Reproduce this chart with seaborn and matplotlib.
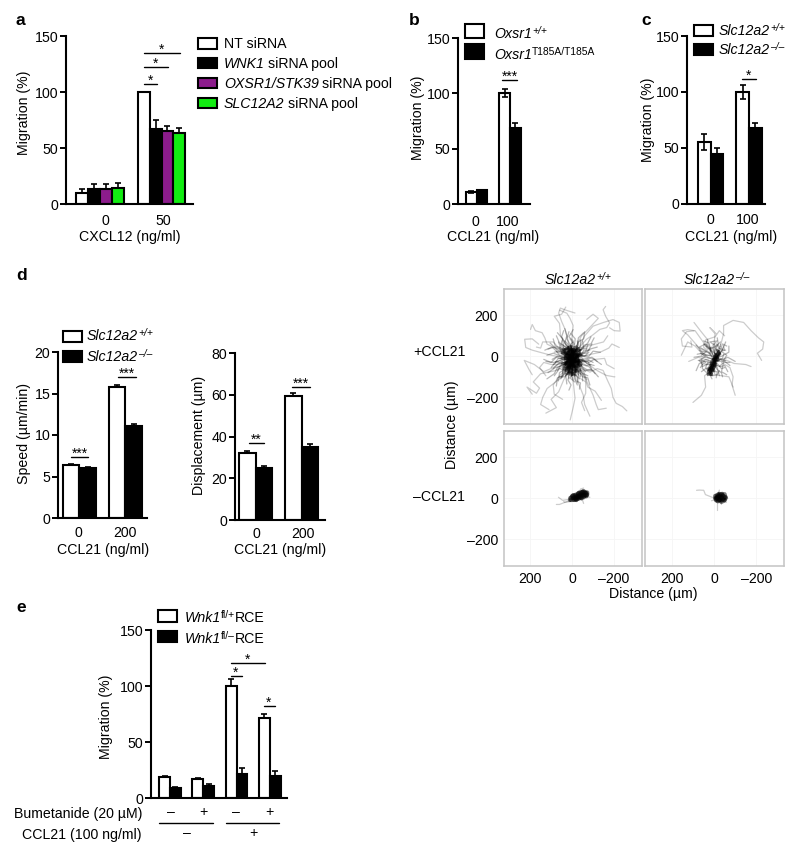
import matplotlib
matplotlib.use("Agg")
import matplotlib.pyplot as plt
from matplotlib.lines import Line2D
from matplotlib.patches import Rectangle
import pandas as pd
import seaborn as sns

W, H = 800, 857
FS = 10.2
SUP = 7.4

# -----------------------------
# Bar data
# -----------------------------
a_doses = ["0", "50"]
a_groups = ["NT siRNA", "WNK1 siRNA pool", "OXSR1/STK39 siRNA pool", "SLC12A2 siRNA pool"]
a_means = [[10, 100], [13, 67], [13, 65], [14, 63.5]]
a_errs = [[3, 0], [5, 8], [5, 5], [5, 4]]
a_colors = ["white", "black", "#8c1c8c", "#12ec12"]

b_doses = ["0", "100"]
b_groups = ["Oxsr1 +/+", "Oxsr1 T185A/T185A"]
b_means = [[11, 100], [12.5, 69]]
b_errs = [[1, 3.5], [0.5, 4.5]]

c_doses = ["0", "100"]
c_groups = ["Slc12a2 +/+", "Slc12a2 -/-"]
c_means = [[55, 100], [44, 68]]
c_errs = [[7, 6.5], [6, 4]]

speed_doses = ["0", "200"]
speed_means = [[6.4, 15.8], [6.0, 11.1]]
speed_errs = [[0.15, 0.2], [0.12, 0.2]]

disp_doses = ["0", "200"]
disp_means = [[32, 59.5], [25, 35.2]]
disp_errs = [[1, 1.2], [0.7, 1]]

e_conditions = ["none", "bumetanide", "ccl21", "ccl21 + bumetanide"]
e_groups = ["Wnk1 fl/+ RCE", "Wnk1 fl/- RCE"]
e_means = [[19, 17, 100, 71], [9, 11, 21.5, 20]]
e_errs = [[0.5, 0.5, 6, 4], [0.5, 1.5, 5, 4]]
bumetanide_signs = ["–", "+", "–", "+"]
ccl21_signs = ["–", "+"]

# -----------------------------
# Tracks, in um
# -----------------------------
tracks_wt_ccl21 = [
    [(-14, -21), (-50, -60), (-85, -77), (-120, -60), (-148, -69), (-170, -120), (-187, -157), (-195, -200), (-210, -229), (-240, -245), (-261, -266)],
    [(-6, 19), (-40, 50), (-69, 83), (-100, 105), (-132, 131), (-165, 140), (-179, 163), (-160, 195), (-148, 227), (-160, 243)],
    [(-30, 35), (-60, 100), (-100, 147), (-150, 165), (-195, 179), (-225, 165), (-229, 123), (-200, 125), (-179, 139)],
    [(9, 19), (20, 80), (33, 131), (50, 170), (64, 211), (56, 235), (30, 225), (-14, 211)],
    [(5, 30), (0, 95), (-5, 150), (10, 185), (25, 210), (60, 225)],
    [(25, 11), (70, 35), (119, 59), (130, 90), (143, 115), (175, 125), (190, 155), (198, 131)],
    [(41, -5), (100, 5), (151, 19), (190, 30), (221, 43), (226, 83), (190, 85), (159, 59)],
    [(40, -20), (90, -55), (135, -75), (180, -40), (228, -20), (205, -65), (190, -90)],
    [(33, -45), (80, -70), (150, -85), (185, -125), (155, -155), (170, -180), (215, -150), (190, -185)],
    [(17, -60), (60, -110), (119, -157), (140, -200), (150, -235), (110, -260)],
    [(10, -60), (40, -115), (64, -173), (100, -210), (75, -250), (125, -277)],
    [(2, -75), (-5, -120), (-14, -205), (-5, -250), (9, -310)],
    [(-14, -60), (-30, -130), (-53, -189), (-60, -235), (-85, -292)],
    [(-30, -45), (-60, -100), (-100, -189), (-115, -235), (-125, -260), (-163, -253)],
    [(-30, -5), (-90, 10), (-132, 19), (-175, 40), (-190, 60), (-225, 43)],
    [(-53, -21), (-120, -70), (-163, -93), (-200, -100), (-204, -100)],
    [(-20, -50), (-55, -90), (-75, -150), (-110, -170), (-140, -215)],
    [(15, 40), (55, 100), (60, 160), (85, 195), (50, 205), (30, 240)],
    [(-15, 40), (-45, 100), (-75, 130), (-125, 185), (-100, 205), (-70, 180)],
    [(45, 20), (90, 70), (140, 70), (150, 40), (170, 45)],
    [(50, -40), (100, -40), (135, -30), (155, -55), (125, -95)],
    [(25, -60), (60, -95), (90, -140), (85, -185), (45, -210)],
    [(-25, -55), (-35, -105), (-65, -125), (-65, -180), (-45, -225), (-60, -265)],
    [(-50, 0), (-110, -15), (-155, -10), (-165, -40), (-200, -60)],
    [(-35, 40), (-95, 55), (-150, 70), (-170, 100)],
]
mid_wt_ccl21 = [
    [(0, 0), (40, 30), (85, 45), (115, 35)], [(0, 0), (30, 55), (50, 95), (40, 125)],
    [(0, 0), (5, 50), (25, 85), (15, 120)], [(0, 0), (-25, 45), (-30, 90), (-55, 115)],
    [(0, 0), (-40, 30), (-75, 65), (-90, 95)], [(0, 0), (-50, 10), (-85, 35), (-120, 45)],
    [(0, 0), (-50, -15), (-95, -5), (-120, -25)], [(0, -10), (-45, -40), (-80, -50), (-110, -85)],
    [(0, -10), (-30, -60), (-55, -75), (-70, -115)], [(0, -10), (-15, -60), (-10, -105), (-25, -140)],
    [(0, -10), (10, -60), (30, -95), (25, -135)], [(0, -10), (30, -60), (60, -80), (65, -120)],
    [(0, -10), (45, -45), (80, -55), (115, -80)], [(0, -10), (50, -20), (90, -30), (125, -25)],
    [(0, -10), (50, 0), (90, 15), (120, 5)], [(0, 0), (45, 15), (70, 30), (105, 65)],
    [(0, 0), (25, 40), (60, 65), (75, 100)], [(0, 0), (-10, 45), (-15, 85), (5, 110)],
    [(0, 0), (-35, 15), (-70, 15), (-95, 60)], [(0, 0), (-45, -5), (-70, -35), (-105, -45)],
    [(0, -5), (-35, -30), (-60, -70), (-90, -65)], [(0, -5), (-20, -50), (-40, -60), (-40, -100)],
    [(0, -5), (-5, -50), (5, -90), (-5, -115)], [(0, -5), (20, -50), (40, -60), (50, -105)],
    [(0, -5), (35, -30), (65, -35), (90, -60)], [(0, -5), (40, -5), (70, 0), (95, -15)],
    [(10, -70), (35, -100), (60, -100)], [(-15, -70), (-30, -90), (-25, -130)],
    [(30, -70), (60, -60), (85, -95)], [(-25, 20), (-55, 40), (-50, 75)],
    [(20, 20), (50, 30), (65, 70)], [(-40, -30), (-75, -25), (-95, -65)],
    [(0, -10), (20, 10), (30, 45), (50, 60)], [(0, -10), (35, 5), (60, 5), (75, 25)],
    [(0, -10), (40, -15), (65, -10), (80, -30)], [(0, -10), (30, -35), (55, -45), (70, -70)],
    [(0, -10), (15, -45), (35, -70), (30, -95)], [(0, -10), (5, -55), (-5, -75), (5, -100)],
    [(0, -10), (-10, -50), (-30, -75), (-30, -90)], [(0, -10), (-30, -35), (-45, -60), (-65, -75)],
    [(0, -10), (-35, -15), (-60, -25), (-80, -20)], [(0, -10), (-35, 5), (-60, 0), (-80, 20)],
    [(0, -10), (-30, 20), (-45, 35), (-70, 40)], [(0, -10), (-15, 25), (-30, 55), (-25, 75)],
    [(0, -10), (0, 30), (10, 55), (-5, 70)], [(0, -10), (15, 25), (20, 60), (35, 75)],
    [(5, -20), (25, -5), (50, 15), (60, 45)], [(5, -20), (40, -30), (60, -20), (90, -40)],
    [(5, -20), (25, -50), (45, -55), (45, -85)], [(5, -20), (10, -65), (20, -85), (15, -110)],
    [(-5, -20), (-15, -65), (-15, -90), (-35, -110)], [(-5, -20), (-35, -50), (-45, -80), (-75, -95)],
    [(-5, -20), (-40, -30), (-70, -45), (-90, -40)], [(-5, -5), (-35, 10), (-65, 25), (-75, 55)],
    [(-5, 0), (-20, 35), (-40, 45), (-40, 80)], [(-5, 5), (5, 40), (-10, 60), (10, 85)],
    [(5, 5), (25, 30), (40, 40), (45, 80)], [(5, 0), (35, 20), (55, 25), (85, 20)],
    [(5, -30), (50, -35), (75, -25), (100, -55)], [(5, -35), (30, -70), (30, -80), (55, -110)],
    [(0, -40), (-5, -85), (10, -105), (-12, -125)], [(-5, -35), (-25, -75), (-50, -90), (-50, -120)],
    [(-5, -25), (-50, -25), (-75, -15), (-100, -30)], [(-5, -15), (-45, 5), (-55, 30), (-85, 30)],
    [(30, 30), (55, 55), (45, 85), (70, 115)], [(40, 10), (70, 20), (95, 45), (130, 30)],
    [(45, -15), (75, -5), (100, -30), (135, -15)], [(40, -40), (70, -55), (85, -85), (120, -110)],
    [(30, -65), (45, -95), (70, -105), (75, -145)], [(10, -80), (20, -115), (5, -140), (15, -165)],
    [(-10, -85), (-20, -120), (-40, -130), (-35, -160)], [(-30, -70), (-50, -100), (-75, -105), (-85, -140)],
    [(-40, -45), (-70, -65), (-100, -70), (-125, -100)], [(-45, -20), (-80, -30), (-105, -15), (-140, -40)],
    [(-45, 5), (-80, 0), (-100, 25), (-135, 20)], [(-35, 30), (-60, 55), (-90, 60), (-105, 90)],
    [(-20, 40), (-30, 70), (-55, 85), (-60, 120)], [(0, 45), (-5, 75), (15, 95), (-5, 130)],
    [(15, 40), (35, 65), (25, 100), (35, 135)], [(35, 20), (50, 40), (80, 50), (90, 85)],
]
core_wt_ccl21 = [
    [(12, 35), (-10, 15), (5, -30), (15, -70)], [(-15, 30), (8, 5), (-12, -25), (0, -60)],
    [(25, 10), (0, -10), (-25, -5), (-35, 15)], [(28, -30), (5, -15), (-28, -35)],
    [(0, 35), (-3, 0), (3, -45)], [(20, -55), (0, -30), (-20, -60)],
    [(30, 5), (10, -20), (22, -50), (30, -35)], [(-30, 10), (-10, -15), (-25, -40), (-32, -20)],
    [(15, 25), (-15, 25), (-25, 5), (-15, -15)], [(20, 20), (35, -10), (15, -5), (30, -40)],
    [(-5, -65), (10, -45), (-15, -45), (5, -75)], [(-20, -50), (-35, -25), (-10, -30), (-5, -5)],
    [(15, 0), (-5, 25), (5, 5), (-20, 10)], [(25, -15), (-5, -5), (-30, -20), (5, -35)],
    [(10, -60), (25, -30), (-5, -50), (10, -25)], [(-5, 20), (20, 5), (10, 30), (-10, 35)],
    [(45, 35), (-40, 30), (48, 15), (-45, 5), (50, -10), (-48, -20), (48, -35), (-42, -45), (40, -60), (-35, -70), (25, -85), (-15, -92)],
    [(-20, 48), (-30, -40), (-10, 45), (-15, -70), (5, 50), (0, -90), (18, 45), (15, -80), (35, 30), (30, -55)],
    [(40, -50), (-30, 40), (-40, 10), (30, -70), (-10, -85), (-40, -30), (45, 25), (10, 48), (-45, -40)],
]

tracks_ko_ccl21 = [
    [(-10, 5), (-30, 50), (-45, 110), (-45, 150), (-90, 175), (-140, 165), (-175, 125), (-210, 90), (-235, 70), (-230, 35), (-205, 15), (-225, -20)],
    [(5, 15), (45, 60), (90, 125), (130, 120), (155, 85), (150, 50), (105, 45), (110, 75)],
    [(10, 10), (70, 40), (125, 105), (150, 125), (125, 130), (95, 125)],
    [(15, 20), (30, 80), (65, 125), (95, 165)],
    [(-5, 25), (0, 65), (-5, 110), (20, 140), (-10, 110)],
    [(20, 5), (50, 5), (90, 50), (125, 70), (155, 5)],
    [(5, -60), (-5, -90), (-70, -100), (-90, -150)],
    [(15, -70), (45, -95), (40, -150), (60, -190), (100, -225)],
    [(-35, -30), (-75, -55), (-90, -100), (-85, -140), (-100, -190)],
    [(-20, -10), (-60, -20), (-95, -35), (-150, -40), (-175, -50)],
    [(20, 15), (50, 45), (40, 80), (-5, 95), (-25, 125), (-50, 100)],
    [(25, -20), (75, -5), (120, -25)],
]
mid_ko_ccl21 = [
    [(0, -10), (30, 20), (60, 25), (85, 55)], [(0, -10), (15, 35), (35, 50), (30, 80)],
    [(0, -10), (-5, 30), (-20, 60), (-15, 90)], [(0, -10), (-30, 15), (-45, 45), (-55, 70)],
    [(0, -10), (-35, 0), (-70, 20), (-70, 50)], [(0, -10), (-40, -15), (-65, -5), (-100, -25)],
    [(5, -40), (-30, -50), (-50, -45), (-65, -75)], [(5, -40), (-20, -70), (-35, -80), (-40, -100)],
    [(15, -50), (25, -80), (10, -110)], [(15, -50), (40, -60), (60, -75)],
    [(5, -30), (40, -25), (70, -35), (85, -70)], [(0, -15), (40, -5), (65, 0), (95, -5)],
    [(0, 0), (30, 5), (55, 15), (80, 10)], [(-10, 10), (15, 30), (25, 65), (50, 75)],
    [(-5, 0), (0, 30), (5, 55), (-10, 70)], [(-10, -5), (-40, 30), (-30, 60)],
    [(0, -20), (-35, -25), (-55, -20)], [(10, -45), (-15, -55), (-25, -95)],
    [(15, -30), (45, -45), (55, -50)], [(0, 0), (25, 40), (50, 60)],
    [(5, -15), (30, -5), (45, 10), (70, 30)], [(5, -15), (20, 15), (15, 40), (40, 60)],
    [(0, -5), (-15, 25), (-5, 45), (-30, 70)], [(0, -15), (-25, 5), (-30, 25), (-55, 30)],
    [(0, -25), (-30, -15), (-50, -30), (-75, -30)], [(5, -35), (-15, -35), (-35, -60), (-50, -55)],
    [(10, -50), (0, -75), (-15, -75), (-10, -105)], [(15, -60), (30, -70), (30, -95)],
    [(10, -40), (35, -40), (50, -35), (65, -55)], [(10, -25), (40, -15), (50, -25), (75, -20)],
    [(-5, 5), (-30, 35), (-10, 60), (-30, 45)], [(-5, 10), (10, 45), (30, 35), (40, 50)],
    [(0, -30), (30, -30), (40, -55), (30, -70)], [(0, -30), (-20, -20), (-40, -10), (-45, 10)],
    [(60, 5), (35, 25), (70, 45), (40, 60)], [(-40, 20), (-60, 5), (-45, -20), (-75, -45)],
    [(40, -30), (60, -15), (55, -60), (30, -85)], [(-25, -50), (-45, -30), (-35, -75), (-60, -90)],
    [(20, 35), (-10, 50), (20, 70), (-15, 75)], [(-20, 40), (-50, 30), (-40, 60), (-60, 50)],
    [(30, -60), (10, -95), (-15, -90), (-25, -70)], [(55, -40), (70, -20), (40, 0), (65, 15)],
]
core_ko_ccl21 = [
    [(22, -85), (5, -40), (-15, 5), (-22, 25)],
    [(28, -75), (0, -35), (-10, 5)],
    [(15, -90), (-8, -30), (-25, 15)],
    [(25, -65), (10, -50), (12, -25), (-8, -5)],
    [(18, -80), (0, -55), (-5, -20), (-18, 0)],
    [(12, -70), (20, -50), (2, -25), (-2, 0)],
    [(30, -88), (10, -90), (25, -60), (0, -70), (15, -40), (-10, -45), (5, -15), (-20, -20), (-8, 10), (-28, 10), (-15, 30)],
]

tracks_wt_noccl21 = [
    [(10, -10), (60, -30), (75, -30)],
    [(15, -5), (45, -10), (65, 5)],
    [(-35, 25), (-40, 45), (-55, 50)],
    [(-60, 10), (-85, 5)],
    [(-35, 0), (-50, -10), (-55, -25)],
    [(5, -15), (35, -20), (40, -15)],
    [(-50, 30), (-70, 38)],
]
core_wt_noccl21 = [
    [(-5, 0), (-30, 12), (-65, 27)],
    [(-15, -3), (-40, 12), (-58, 15)],
    [(0, 10), (-25, 20), (-50, 28)],
    [(5, -8), (-20, -5), (-45, 5), (-68, 15)],
    [(-5, 10), (-20, 5), (-35, 28), (-60, 30)],
    [(-8, -8), (-28, -2), (-50, 15), (-72, 18)],
    [(8, 2), (-25, 2), (-40, 22), (-55, 35)],
    [(-15, 15), (-35, 5), (-55, 5), (-68, 25)],
    [(10, -8), (-5, 15), (-20, -8), (-30, 25), (-45, 0), (-50, 32), (-68, 10), (-72, 28)],
]

tracks_ko_noccl21 = [
    [(2, 2), (41, 18), (49, 39), (70, 40), (83, 39)],
    [(-13, -22), (-13, -55)],
    [(-50, 10), (-65, 0)],
    [(-20, 25), (-25, 40)],
    [(-30, -15), (-35, -30)],
    [(0, -8), (12, -12)],
    [(-45, -15), (-58, -20)],
]
core_ko_noccl21 = [
    [(-5, 3), (-30, 3), (-55, 5)],
    [(-12, 15), (-30, 5), (-48, -10)],
    [(-18, -15), (-32, 0), (-42, 15)],
    [(-8, -8), (-25, 18), (-50, 20), (-55, 0)],
    [(-5, 12), (-35, -12), (-50, 8), (-25, 22)],
    [(-12, -12), (-45, -5), (-30, 12), (-10, 0)],
    [(-20, 20), (-12, 0), (-35, -18), (-52, -8)],
    [(-38, 22), (-18, 8), (-28, -8), (-6, -2)],
]

tick_values = [200, 0, -200]
tick_labels = ["200", "0", "–200"]


def fx(x):
    return x / W


def fy(y):
    return 1 - y / H


def px_axes(fig, left, top, right, bottom):
    return fig.add_axes([fx(left), fy(bottom), (right - left) / W, (bottom - top) / H])


def label(fig, x, y, text, **kwargs):
    kwargs.setdefault("fontsize", FS)
    kwargs.setdefault("ha", "center")
    kwargs.setdefault("va", "baseline")
    return fig.text(fx(x), fy(y), text, **kwargs)


def rich_label(fig, x, y, parts):
    # parts: (text, style, size, raise in px), a plain number is a gap in px
    renderer = fig.canvas.get_renderer()
    for part in parts:
        if isinstance(part, (int, float)):
            x += part
            continue
        text, style, size, rise = part
        t = label(fig, x, y - rise, text, style=style, fontsize=size, ha="left")
        x += t.get_window_extent(renderer).width


def legend_row(fig, left, top, bottom, color, text_x, baseline, parts):
    fig.add_artist(Rectangle((fx(left), fy(bottom)), (19) / W, (bottom - top) / H, transform=fig.transFigure,
                             facecolor=color, edgecolor="black", linewidth=1.5))
    rich_label(fig, text_x, baseline, parts)


def sig_bar(fig, x0, x1, y, stars, star_x=None):
    fig.add_artist(Line2D([fx(x0), fx(x1)], [fy(y), fy(y)], color="black", lw=1.0))
    if star_x is None:
        star_x = (x0 + x1) / 2
    label(fig, star_x, y + 1, stars, fontsize=10)


def bar_panel(fig, box, cats, groups, means, errs, colors, centers, width, ymax, yticks,
              tick_x=None, two_sided=False, pad=7):
    rows = []
    for g, group in enumerate(groups):
        for c, cat in enumerate(cats):
            rows.append({"cat": cat, "group": group, "value": means[g][c]})
    df = pd.DataFrame(rows)

    ax = px_axes(fig, *box)
    sns.barplot(data=df, x="cat", y="value", hue="group", order=cats, hue_order=groups,
                palette=colors, saturation=1, edgecolor="black", linewidth=1.5,
                width=width, gap=0, errorbar=None, legend=False, ax=ax)

    # errorbar() adds to ax.containers, so walk over a copy
    for g, container in enumerate(list(ax.containers)):
        for c, patch in enumerate(container):
            err = errs[g][c]
            if err == 0:
                continue
            low = err if (two_sided and g == 0) else 0
            ax.errorbar(patch.get_x() + patch.get_width() / 2, means[g][c], yerr=[[low], [err]],
                        color="black", elinewidth=1.2, capsize=2.5, capthick=1.2, zorder=1.5)

    spacing = centers[1] - centers[0]
    ax.set_xlim((box[0] - centers[0]) / spacing, (box[2] - centers[0]) / spacing)
    ax.set_ylim(0, ymax)
    ax.set_yticks(yticks)
    ax.set_xlabel("")
    ax.set_ylabel("")
    if tick_x is None:
        ax.set_xticks([])
    else:
        ax.set_xticks([(x - centers[0]) / spacing for x in tick_x])
        ax.set_xticklabels(cats)
    ax.tick_params(axis="x", length=0, pad=pad, labelsize=FS)
    ax.tick_params(axis="y", length=4.5, width=1.4, pad=1, labelsize=FS)
    ax.patch.set_alpha(0)
    sns.despine(ax=ax)
    for side in ["left", "bottom"]:
        ax.spines[side].set_linewidth(1.5)
    return ax


def track_frame(tracks, mids, cores):
    rows = []
    for kind, sets in [("long", tracks), ("mid", mids), ("core", cores)]:
        for i, track in enumerate(sets):
            for x, y in track:
                rows.append({"kind": kind, "track": f"{kind}{i}", "x": x, "y": y})
    return pd.DataFrame(rows)


def track_panel(fig, box, tracks, mids, cores, core_lw, left_labels, bottom_labels):
    ax = px_axes(fig, *box)
    ax.set_axisbelow(True)
    ax.grid(True, color="#f5f5f5", lw=0.6)
    df = track_frame(tracks, mids, cores)
    for kind, lw, alpha in [("long", 0.9, 0.2), ("mid", 0.9, 0.28), ("core", core_lw, 0.5)]:
        part = df[df["kind"] == kind]
        if len(part):
            sns.lineplot(data=part, x="x", y="y", units="track", estimator=None, sort=False,
                         color="black", lw=lw, alpha=alpha, ax=ax, legend=False)
    ax.set_xlim(327, -331)
    ax.set_ylim(-330, 328)
    ax.set_xticks(tick_values)
    ax.set_yticks(tick_values)
    ax.set_xticklabels(tick_labels if bottom_labels else [])
    ax.set_yticklabels(tick_labels if left_labels else [])
    ax.tick_params(length=0, labelsize=FS, pad=4)
    ax.set_xlabel("")
    ax.set_ylabel("")
    for spine in ax.spines.values():
        spine.set_color("#c4c4c4")
        spine.set_linewidth(1.1)
    return ax


def main():
    sns.set_theme(style="ticks", rc={"text.color": "black", "axes.labelcolor": "black",
                                     "xtick.color": "black", "ytick.color": "black",
                                     "axes.edgecolor": "black"})
    plt.rcParams["font.family"] = ["Liberation Sans", "DejaVu Sans"]
    plt.rcParams["axes.unicode_minus"] = False

    fig = plt.figure(figsize=(W / 100, H / 100), dpi=100, facecolor="white")

    # -----------------------------
    # Panel a
    # -----------------------------
    bar_panel(fig, (66, 36, 193, 204), a_doses, a_groups, a_means, a_errs, a_colors,
              (100, 161.5), 0.78, 150, [0, 50, 100, 150], tick_x=(105, 163), pad=7)
    label(fig, 130, 241, "CXCL12 (ng/ml)")
    label(fig, 24, 113, "Migration (%)", rotation=90, va="center", rotation_mode="anchor")
    sig_bar(fig, 144, 157, 83.5, "*", 151)
    sig_bar(fig, 144, 168, 66.5, "*", 156)
    sig_bar(fig, 144, 180, 52.5, "*", 162)
    a_italic = ["", "WNK1", "OXSR1/STK39", "SLC12A2"]
    a_tops = [38, 57.5, 77.5, 97.5]
    for i, color in enumerate(a_colors):
        parts = [("NT siRNA", "normal", FS, 0)] if i == 0 else [
            (a_italic[i], "italic", FS, 0), 3.5, ("siRNA pool", "normal", FS, 0)]
        legend_row(fig, 198, a_tops[i], a_tops[i] + 10.5, color, 224, a_tops[i] + 10.5, parts)

    # -----------------------------
    # Panels b and c
    # -----------------------------
    bar_panel(fig, (458, 38, 530, 204), b_doses, b_groups, b_means, b_errs, ["white", "black"],
              (476.5, 510), 0.64, 150, [0, 50, 100, 150], tick_x=(475, 508), two_sided=True, pad=8)
    label(fig, 493, 241, "CCL21 (ng/ml)")
    label(fig, 418, 118, "Migration (%)", rotation=90, va="center", rotation_mode="anchor")
    sig_bar(fig, 502, 517, 80, "***", 510)
    legend_row(fig, 465, 24.5, 38, "white", 494, 38,
               [("Oxsr1", "italic", FS, 0), ("+/+", "italic", SUP, 4)])
    legend_row(fig, 465, 44.5, 59, "black", 494, 59,
               [("Oxsr1", "italic", FS, 0), ("T185A/T185A", "normal", SUP, 4)])

    bar_panel(fig, (687, 36, 765, 203.5), c_doses, c_groups, c_means, c_errs, ["white", "black"],
              (710.5, 749), 0.65, 150, [0, 50, 100, 150], tick_x=(710, 748), two_sided=True, pad=7)
    label(fig, 731, 241, "CCL21 (ng/ml)")
    label(fig, 648, 120, "Migration (%)", rotation=90, va="center", rotation_mode="anchor")
    sig_bar(fig, 742, 756, 79, "*", 749)
    legend_row(fig, 694, 25, 36, "white", 719, 35,
               [("Slc12a2", "italic", FS, 0), ("+/+", "italic", SUP, 4)])
    legend_row(fig, 694, 44, 55, "black", 719, 54,
               [("Slc12a2", "italic", FS, 0), ("–/–", "italic", SUP, 4)])

    # -----------------------------
    # Panel d bars
    # -----------------------------
    bar_panel(fig, (58, 352, 147, 518), speed_doses, c_groups, speed_means, speed_errs, ["white", "black"],
              (79.5, 125.5), 0.72, 20, [0, 5, 10, 15, 20], tick_x=(78, 125), pad=6)
    label(fig, 103, 554, "CCL21 (ng/ml)")
    label(fig, 24, 433, "Speed (µm/min)", rotation=90, va="center", rotation_mode="anchor")
    sig_bar(fig, 71, 88, 457, "***", 80)
    sig_bar(fig, 118, 136, 377, "***", 127)
    legend_row(fig, 63, 331, 342, "white", 87, 340,
               [("Slc12a2", "italic", FS, 0), ("+/+", "italic", SUP, 4)])
    legend_row(fig, 63, 351, 362, "black", 87, 361,
               [("Slc12a2", "italic", FS, 0), ("–/–", "italic", SUP, 4)])

    bar_panel(fig, (235, 353, 325, 520), disp_doses, c_groups, disp_means, disp_errs, ["white", "black"],
              (255.5, 301.5), 0.72, 80, [0, 20, 40, 60, 80], tick_x=(256, 303), pad=5)
    label(fig, 280, 554, "CCL21 (ng/ml)")
    label(fig, 199, 435, "Displacement (µm)", rotation=90, va="center", rotation_mode="anchor")
    sig_bar(fig, 249, 264, 443, "**", 256)
    sig_bar(fig, 292, 310, 387, "***", 301)

    # -----------------------------
    # Panel d tracks
    # -----------------------------
    track_panel(fig, (503.5, 289, 641.5, 424), tracks_wt_ccl21, mid_wt_ccl21, core_wt_ccl21, 1.8, True, False)
    track_panel(fig, (645, 289, 784, 424), tracks_ko_ccl21, mid_ko_ccl21, core_ko_ccl21, 2.0, False, False)
    track_panel(fig, (503.5, 431, 641.5, 566), tracks_wt_noccl21, [], core_wt_noccl21, 3.2, True, True)
    track_panel(fig, (645, 431, 784, 566), tracks_ko_noccl21, [], core_ko_noccl21, 3, False, True)
    rich_label(fig, 545, 284, [("Slc12a2", "italic", FS, 0), ("+/+", "italic", SUP, 4)])
    rich_label(fig, 684, 284, [("Slc12a2", "italic", FS, 0), ("–/–", "italic", SUP, 4)])
    label(fig, 653, 598, "Distance (µm)")
    label(fig, 452, 425, "Distance (µm)", rotation=90, va="center", rotation_mode="anchor")
    label(fig, 413, 352, "+CCL21", ha="left", va="center")
    label(fig, 413, 497, "–CCL21", ha="left", va="center")

    # -----------------------------
    # Panel e
    # -----------------------------
    bar_panel(fig, (151, 630, 287, 798), e_conditions, e_groups, e_means, e_errs, ["white", "black"],
              (170, 203.3), 0.65, 150, [0, 50, 100, 150])
    label(fig, 106, 717, "Migration (%)", rotation=90, va="center", rotation_mode="anchor")
    sig_bar(fig, 231, 265, 663, "*", 248)
    sig_bar(fig, 231, 242, 676, "*", 236)
    sig_bar(fig, 264, 275, 706, "*", 269)
    legend_row(fig, 158, 610, 622, "white", 185, 622,
               [("Wnk1", "italic", FS, 0), ("fl/+", "normal", SUP, 4), ("RCE", "normal", FS, 0)])
    legend_row(fig, 158, 631, 642, "black", 185, 643,
               [("Wnk1", "italic", FS, 0), ("fl/–", "normal", SUP, 4), ("RCE", "normal", FS, 0)])
    label(fig, 142, 818, "Bumetanide (20 µM)", ha="right")
    label(fig, 142, 839, "CCL21 (100 ng/ml)", ha="right")
    for x, sign in zip((171, 203, 236, 269), bumetanide_signs):
        label(fig, x, 816, sign)
    for x, sign in zip((187, 253), ccl21_signs):
        label(fig, x, 837, sign)
    for x0, x1 in [(159, 213), (226, 279)]:
        fig.add_artist(Line2D([fx(x0), fx(x1)], [fy(823), fy(823)], color="black", lw=1.0))

    # -----------------------------
    # Panel letters
    # -----------------------------
    for letter, x, y in [("a", 16, 25), ("b", 409, 25), ("c", 641, 25), ("d", 16, 280), ("e", 16, 612)]:
        label(fig, x, y, letter, fontsize=12.5, fontweight="bold", ha="left")

    fig.savefig("out.png", dpi=100, facecolor="white")


if __name__ == "__main__":
    main()
